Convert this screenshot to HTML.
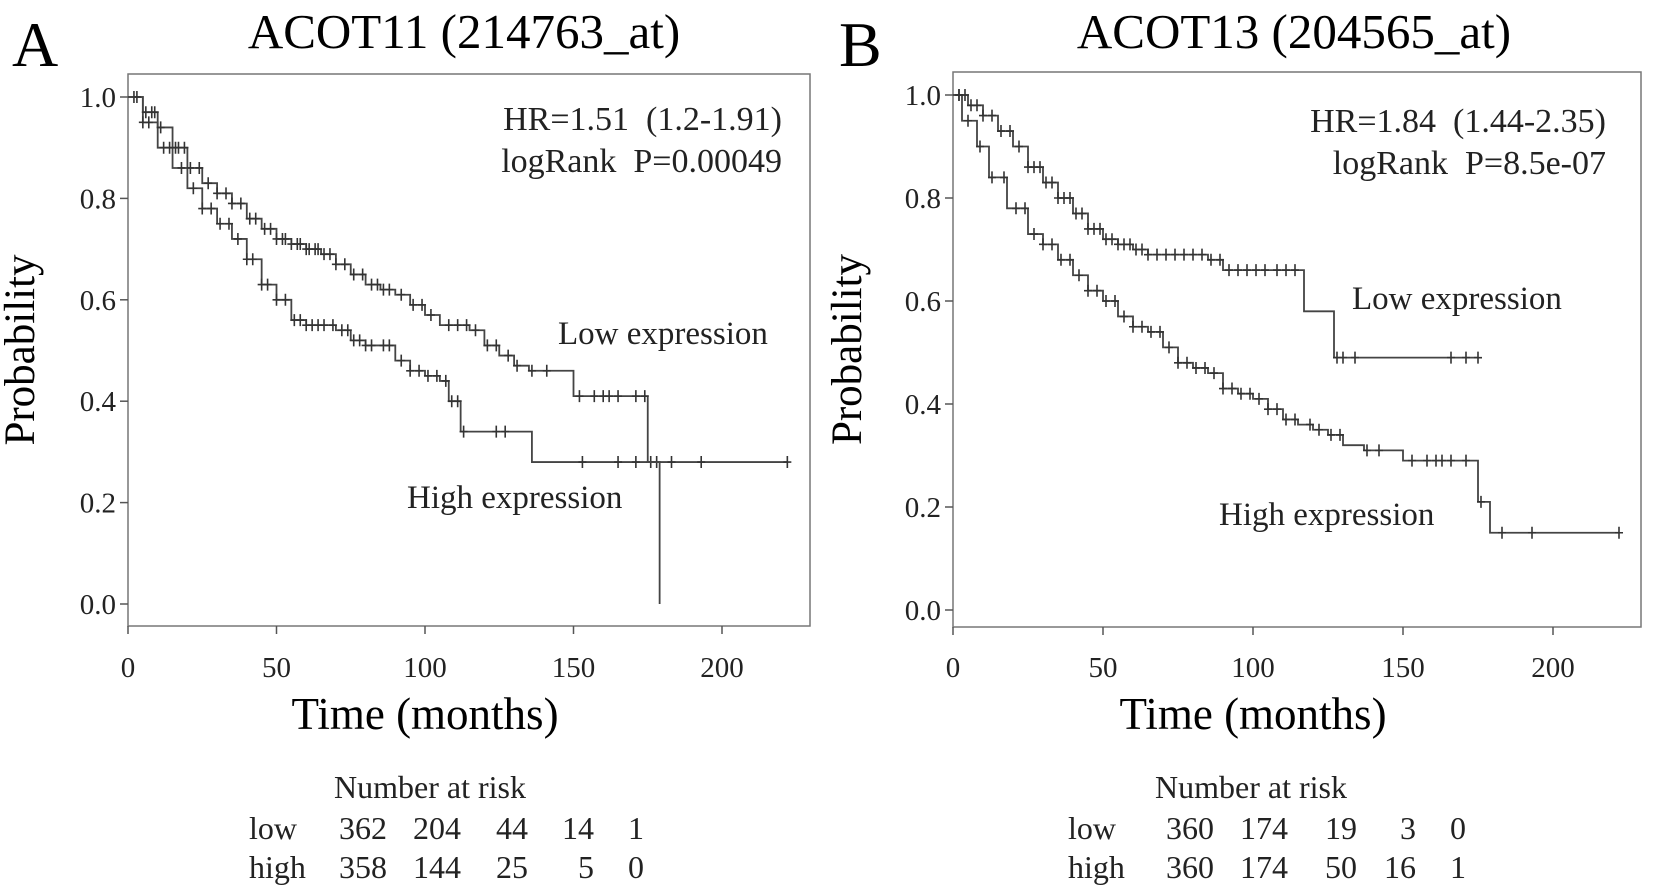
<!DOCTYPE html>
<html><head><meta charset="utf-8"><style>
html,body{margin:0;padding:0;background:#fff;}
svg{display:block;font-family:"Liberation Serif",serif;}
</style></head><body>
<svg id="fig" width="1654" height="896" viewBox="0 0 1654 896">
<g id="pA"></g>
<g id="pB"></g>
</svg>
<script>
// ---- Panel A data ----
const aLowT=[0,5,10,15,20,25,30,35,40,45,50,55,60,65,70,75,80,85,90,95,100,105,110,115,120,125,130,135,150,175,179];
const aLowS=[1.0,0.97,0.94,0.90,0.86,0.83,0.81,0.79,0.76,0.74,0.72,0.71,0.70,0.69,0.67,0.65,0.63,0.62,0.61,0.59,0.57,0.55,0.55,0.54,0.51,0.49,0.47,0.46,0.41,0.28,0.0];
const aLowEnd=179;
const aLowCens=[3,6,8,9,11,16,17,19,21,24,27,30,33,35,38,41,43,46,48,50,52,53,55,57,58,60,61,63,64,66,68,70,73,76,79,82,84,86,88,92,96,99,102,108,111,114,117,121,124,128,131,136,141,152,157,160,162,165,171,174];
const aHighT=[0,5,10,15,20,25,30,35,40,45,50,55,60,70,75,80,90,95,100,105,108,112,136];
const aHighS=[1.0,0.95,0.90,0.86,0.82,0.78,0.75,0.72,0.68,0.63,0.60,0.56,0.55,0.54,0.52,0.51,0.48,0.46,0.45,0.44,0.40,0.34,0.28];
const aHighEnd=222;
const aHighCens=[2,5,7,12,14,18,22,25,28,31,34,37,40,42,45,47,50,53,56,58,60,62,64,66,69,72,74,76,78,80,82,86,88,92,95,98,101,104,107,109,111,113,124,127,153,165,171,176,178,183,193,222];
const aRiskLow=["362","204","44","14","1"];
const aRiskHigh=["358","144","25","5","0"];
// ---- Panel B data ----
const bLowT=[0,5,10,15,20,25,30,35,40,45,50,55,60,65,75,85,90,117,127];
const bLowS=[1.0,0.98,0.96,0.93,0.90,0.86,0.83,0.80,0.77,0.74,0.72,0.71,0.70,0.69,0.69,0.68,0.66,0.58,0.49];
const bLowEnd=175;
const bLowCens=[2,4,6,8,10,13,16,19,22,25,27,29,31,33,35,37,39,41,43,45,47,49,51,53,55,57,59,61,63,65,68,71,74,77,80,83,86,89,92,95,98,101,104,108,111,114,128,130,134,166,171,175];
const bHighT=[0,3,8,12,18,25,30,35,40,45,50,55,60,65,70,75,80,85,90,95,100,105,110,115,120,125,130,137,150,175,179];
const bHighS=[1.0,0.95,0.90,0.84,0.78,0.73,0.71,0.68,0.65,0.62,0.60,0.57,0.55,0.54,0.51,0.48,0.47,0.46,0.43,0.42,0.41,0.39,0.37,0.36,0.35,0.34,0.32,0.31,0.29,0.21,0.15];
const bHighEnd=222;
const bHighCens=[2,5,9,13,17,21,24,27,30,33,36,39,42,45,48,51,54,57,60,63,66,69,72,75,78,81,84,87,90,93,96,99,102,105,108,111,114,119,122,126,129,138,142,153,158,161,163,166,171,176,183,193,222];
const bRiskLow=["360","174","19","3","0"];
const bRiskHigh=["360","174","50","16","1"];
const yTicks=["0.0","0.2","0.4","0.6","0.8","1.0"];
const xTicks=["0","50","100","150","200"];

const NS="http://www.w3.org/2000/svg";
function mk(p,tag,at,txt){const e=document.createElementNS(NS,tag);for(const k in at)e.setAttribute(k,at[k]);if(txt!==undefined)e.textContent=txt;p.appendChild(e);return e;}
function surv(T,S,t){let v=S[0];for(let i=0;i<T.length;i++){if(T[i]<=t)v=S[i];}return v;}

function panel(g,cfg){
  const X=t=>cfg.x0+t*cfg.sx, Y=v=>cfg.y0-v*cfg.sy;
  const bot=cfg.fy+cfg.fh;
  let e=mk(g,'text',{x:cfg.letterX,y:66,'font-size':64},cfg.letter);
  
  
  e=mk(g,'text',{x:cfg.titleX,y:48,'font-size':49,'text-anchor':'middle'},cfg.title);
  
  
  e=mk(g,'rect',{x:cfg.fx,y:cfg.fy,width:cfg.fw,height:cfg.fh,fill:'none',stroke:'#777','stroke-width':1.5});
  
  
  yTicks.forEach(l=>{const v=parseFloat(l);const yy=Y(v);
    mk(g,'line',{x1:cfg.fx-8,x2:cfg.fx,y1:yy,y2:yy,stroke:'#555','stroke-width':1.5});
    e=mk(g,'text',{x:cfg.fx-12,y:yy+10,'font-size':29,'text-anchor':'end',fill:'#222'},l);
    
    });
  xTicks.forEach(l=>{const t=parseFloat(l);const xx=X(t);
    mk(g,'line',{x1:xx,x2:xx,y1:bot,y2:bot+8,stroke:'#555','stroke-width':1.5});
    e=mk(g,'text',{x:xx,y:677,'font-size':29,'text-anchor':'middle',fill:'#222'},l);
    
    });
  e=mk(g,'text',{x:0,y:0,'font-size':43,'text-anchor':'middle',transform:`translate(${cfg.ylabX},${(cfg.fy+bot)/2}) rotate(-90)`},'Probability');
  
  
  e=mk(g,'text',{x:X(0)+cfg.sx*100,y:729,'font-size':45,'text-anchor':'middle'},'Time (months)');
  
  
  e=mk(g,'text',{x:cfg.hrX,y:cfg.hrY,'font-size':34,'text-anchor':'end',fill:'#222'},cfg.hr);
  
  
  e=mk(g,'text',{x:cfg.hrX,y:cfg.hrY+42,'font-size':34,'text-anchor':'end',fill:'#222'},cfg.p);
  
  
  function curve(T,S,end,C,name){
    let d=`M${X(T[0])},${Y(S[0])}`;
    for(let i=1;i<T.length;i++){d+=` H${X(T[i])} V${Y(S[i])}`;}
    d+=` H${X(end)}`;
    const p=mk(g,'path',{d:d,fill:'none',stroke:'#444','stroke-width':1.8});
    
    
    C.forEach(t=>{const xx=X(t),yy=Y(surv(T,S,t));
      const c=mk(g,'path',{d:`M${xx-4},${yy}H${xx+4}M${xx},${yy-6}V${yy+6}`,stroke:'#333','stroke-width':1.6});
      
      });
  }
  curve(cfg.hT,cfg.hS,cfg.hEnd,cfg.hC,'high-expression');
  curve(cfg.lT,cfg.lS,cfg.lEnd,cfg.lC,'low-expression');
  e=mk(g,'text',{x:cfg.lowLX,y:cfg.lowLY,'font-size':33,fill:'#222'},'Low expression');
  
  
  e=mk(g,'text',{x:cfg.highLX,y:cfg.highLY,'font-size':33,fill:'#222'},'High expression');
  
  
  e=mk(g,'text',{x:cfg.narX,y:798,'font-size':32,'text-anchor':'middle',fill:'#222'},'Number at risk');
  
  
  [['low',cfg.rl,839],['high',cfg.rh,878]].forEach(([lab,arr,yy])=>{
    e=mk(g,'text',{x:cfg.rowX,y:yy,'font-size':32,fill:'#222'},lab);
    
    
    arr.forEach((v,i)=>{e=mk(g,'text',{x:cfg.colX[i],y:yy,'font-size':32,'text-anchor':'end',fill:'#222'},v);
      
      });
  });
}
panel(document.getElementById('pA'),{letter:'A',letterX:12,title:'ACOT11 (214763_at)',titleX:464,
  fx:128,fy:74,fw:682,fh:552,x0:128,sx:2.97,y0:604,sy:507,ylabX:34,hrX:782,hrY:130,
  hr:'HR=1.51\u00a0\u00a0(1.2-1.91)',p:'logRank\u00a0\u00a0P=0.00049',
  lT:aLowT,lS:aLowS,lEnd:aLowEnd,lC:aLowCens,hT:aHighT,hS:aHighS,hEnd:aHighEnd,hC:aHighCens,
  lowLX:558,lowLY:344,highLX:407,highLY:508,narX:430,rowX:249,colX:[387,461,528,594,644],rl:aRiskLow,rh:aRiskHigh});
panel(document.getElementById('pB'),{letter:'B',letterX:839,title:'ACOT13 (204565_at)',titleX:1294,
  fx:953,fy:72,fw:688,fh:555,x0:953,sx:3.0,y0:610,sy:515,ylabX:861,hrX:1606,hrY:132,
  hr:'HR=1.84\u00a0\u00a0(1.44-2.35)',p:'logRank\u00a0\u00a0P=8.5e-07',
  lT:bLowT,lS:bLowS,lEnd:bLowEnd,lC:bLowCens,hT:bHighT,hS:bHighS,hEnd:bHighEnd,hC:bHighCens,
  lowLX:1352,lowLY:309,highLX:1219,highLY:525,narX:1251,rowX:1068,colX:[1214,1288,1357,1416,1466],rl:bRiskLow,rh:bRiskHigh});
</script>
</body></html>
